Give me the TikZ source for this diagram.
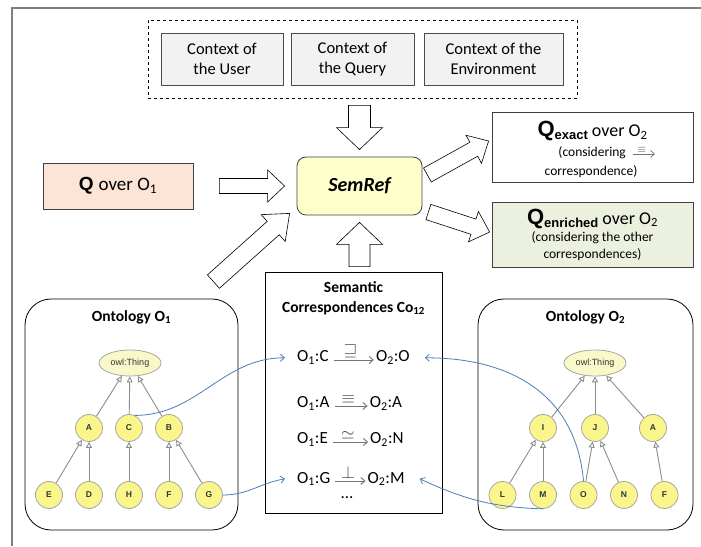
\documentclass[tikz,border=0pt]{standalone}
\usepackage{fontspec}
\setmainfont{Carlito}
\newfontfamily\arialfont{Liberation Sans}
\usepackage{amsmath,amssymb}
\usetikzlibrary{arrows.meta,calc,shapes.geometric,positioning}

\definecolor{framegray}{HTML}{7F7F7F}
\definecolor{boxgray}{HTML}{F2F2F2}
\definecolor{semyel}{HTML}{FFFFCC}
\definecolor{qpeach}{HTML}{FCE4D6}
\definecolor{qgreen}{HTML}{EBF1DE}
\definecolor{nodeyel}{HTML}{FAF68C}
\definecolor{thingyel}{HTML}{FAF8C8}
\definecolor{linkblue}{HTML}{4A7EBB}

\newcommand\ctxfont{\fontsize{16.5}{20}\selectfont}
\newcommand\semfont{\fontsize{20}{24}\selectfont\bfseries\itshape}
\newcommand\rowfont{\fontsize{17}{20}\selectfont}
\newcommand\relfont{\fontsize{16}{16}\selectfont\color{black!75}}
\newcommand\titlefont{\fontsize{15.5}{20}\selectfont\bfseries}
\newcommand\notefont{\fontsize{13.5}{17}\selectfont}
\newcommand\headfont{\fontsize{18}{22}\selectfont}
\newcommand\tnodefont{\arialfont\bfseries\fontsize{8.5}{9}\selectfont\color{black!80}}
\newcommand\thingfont{\arialfont\fontsize{9}{9}\selectfont\color{black!80}}
\newcommand\qsub[1]{{\arialfont\bfseries\fontsize{22}{22}\selectfont Q\raisebox{-3pt}{\fontsize{13}{13}\selectfont #1}}}

%tail, tip, shaft, head, head length
\newcommand\blockarrow[5]{%
  \coordinate (ba) at ($(#2)!#5!(#1)$);
  \draw[blockarr] ($(#1)!#3!90:(#2)$) -- ($(ba)!#3!90:(#2)$) -- ($(ba)!#4!90:(#2)$) -- (#2)
    -- ($(ba)!#4!-90:(#2)$) -- ($(ba)!#3!-90:(#2)$) -- ($(#1)!#3!-90:(#2)$) -- cycle;}

\begin{document}
\begin{tikzpicture}[x=1pt,y=1pt,
  ctxbox/.style={draw=black!70, fill=boxgray, minimum height=52, align=center, font=\ctxfont, line width=0.8pt},
  dashbox/.style={draw=black, dashed, line width=0.8pt, minimum width=429, minimum height=78},
  qbox/.style={draw=black!75, line width=0.8pt, inner sep=0pt, align=center},
  semref/.style={draw=black!75, fill=semyel, rounded corners=9pt, minimum width=125, minimum height=58, font=\semfont, line width=0.8pt},
  ontobox/.style={draw=black, rounded corners=26pt, minimum height=231, line width=0.8pt},
  corrbox/.style={draw=black, minimum width=177, minimum height=241, line width=0.8pt},
  corrtext/.style={inner sep=0pt, anchor=base west, font=\rowfont},
  relarr/.style={draw=black!55, line width=0.9pt, -{Straight Barb[length=4pt, width=7pt]}},
  blockarr/.style={draw=black, fill=white, line width=0.6pt, line join=miter},
  tnode/.style={circle, draw=black!35, fill=nodeyel, minimum size=27, inner sep=0pt, font=\tnodefont, line width=0.8pt},
  thing/.style={ellipse, draw=black!35, fill=thingyel, minimum width=62, minimum height=26, inner sep=0pt, font=\thingfont, line width=0.8pt},
  isa/.style={draw=black!45, line width=0.9pt, -{Triangle[open, length=6pt, width=6pt]}},
  link/.style={draw=linkblue, line width=0.8pt, -{Straight Barb[length=4pt, width=7pt]}}]

    \useasboundingbox (0,0) rectangle (701,546);

    %Marco
    \draw[framegray, line width=2pt] (12,0) -- (12,538) -- (701,538);

    %Contextos
    \node[dashbox] (ctx) at (362.5,487) {};
    \node[ctxbox, minimum width=122] (cuser) at (222,487) {Context of\\the User};
    \node[ctxbox, minimum width=123] (cquery) at (352.5,487) {Context of\\the Query};
    \node[ctxbox, minimum width=139] (cenv) at (493.5,487) {Context of the\\Environment};

    %SemRef y consultas
    \node[semref] (semref) at (359.5,360) {SemRef};
    \node[qbox, fill=qpeach, minimum width=150, minimum height=46, font=\fontsize{19}{22}\selectfont] (qin) at (118,360)
        {{\arialfont\bfseries Q}\hspace{5pt}over O\textsubscript{1}};
    \node[qbox, fill=white, minimum width=201, minimum height=70] (qexact) at (592.5,399) {};
    \node[font=\headfont] (qexhead) at (592.5,415) {\qsub{exact} over O\textsubscript{2}};
    \node[font=\notefont, inner sep=0pt, anchor=base east] (qexnote) at (626,389) {(considering};
    \draw[relarr, line width=0.7pt] ([xshift=7pt, yshift=3pt]qexnote.base east) -- ++(22,0)
        node[pos=0.4, above=0pt, inner sep=1pt, font=\fontsize{11}{11}\selectfont\color{black!75}] {$\equiv$};
    \node[font=\notefont] (qexnote2) at (591,374) {correspondence)};
    \node[qbox, fill=qgreen, minimum width=201, minimum height=65, font=\notefont] (qenr) at (592.5,311.5)
        {{\headfont\qsub{enriched} over O\textsubscript{2}}\\(considering the other\\correspondences)};

    %Correspondencias
    \node[corrbox] (corr) at (353.5,153.5) {};
    \node[font=\titlefont, align=center, below=6pt of corr.north] (corrtitle) {Semantic\\Correspondences Co\textsubscript{12}};
    \foreach \i/\lft/\sy/\rgt/\yb/\gap in {1/C/\sqsupseteq/O/184/47,2/A/\equiv/A/138/40,3/E/\simeq/N/102/42,4/G/\perp/M/63/37}{
        \node[corrtext] (c\i a) at (297,\yb) {O\textsubscript{1}:\lft};
        \node[corrtext, right=\gap pt of c\i a.base east, anchor=base west] (c\i b) {O\textsubscript{2}:\rgt};
        \draw[relarr] ([shift={(5pt,2pt)}]c\i a.base east) -- ([shift={(-2pt,2pt)}]c\i b.base west)
            node[pos=0.42, above=1pt, inner sep=1pt, font=\relfont] {$\sy$};
    }
    \node[font=\rowfont] (dots) at (347,48) {...};

    %Ontologia O1
    \node[ontobox, minimum width=213] (onto1) at (131.5,131.5) {};
    \node[font=\titlefont, below=8pt of onto1.north] (title1) {Ontology O\textsubscript{1}};
    \node[thing] (t1thing) at (130,183) {owl:Thing};
    \foreach \n [count=\i] in {A,C,B}
        \node[tnode] (t1\n) at ({49+40*\i},118) {\n};
    \foreach \n [count=\i] in {E,D,H,F,G}
        \node[tnode] (t1\n) at ({9+40*\i},51) {\n};
    \foreach \c/\p in {E/A,D/A,H/C,F/B,G/B,A/thing,C/thing,B/thing}
        \draw[isa] (t1\c) -- (t1\p);

    %Ontologia O2
    \node[ontobox, minimum width=215] (onto2) at (585.5,131.5) {};
    \node[font=\titlefont, below=8pt of onto2.north] (title2) {Ontology O\textsubscript{2}};
    \node[thing] (t2thing) at (595,183) {owl:Thing};
    \foreach \n/\x in {I/543,J/595,A/653}
        \node[tnode] (t2\n) at (\x,118) {\n};
    \foreach \n [count=\i] in {L,M,O,N,F}
        \node[tnode] (t2\n) at ({462+40.5*\i},51) {\n};
    \foreach \c/\p in {L/I,M/I,O/J,N/J,F/A,I/thing,J/thing,A/thing}
        \draw[isa] (t2\c) -- (t2\p);

    %Flechas de bloque
    \coordinate (a1s) at ([xshift=26pt]qin.east);
    \coordinate (a1e) at ([xshift=-12pt]semref.west);
    \blockarrow{a1s}{a1e}{7.5pt}{16pt}{17pt}
    \coordinate (a2s) at ($(semref.north |- ctx.south)+(0,-7)$);
    \coordinate (a2e) at ([yshift=7pt]semref.north);
    \blockarrow{a2s}{a2e}{11pt}{23pt}{22pt}
    \coordinate (a3s) at ($(semref.south |- corr.north)+(0,5)$);
    \coordinate (a3e) at ([yshift=-7pt]semref.south);
    \blockarrow{a3s}{a3e}{10.5pt}{23pt}{22pt}
    \coordinate (a4s) at ([shift={(-25pt,17pt)}]onto1.north east);
    \coordinate (a4e) at ([shift={(-7pt,2pt)}]semref.south west);
    \blockarrow{a4s}{a4e}{9pt}{18pt}{22pt}
    \coordinate (a5s) at ([shift={(5pt,11pt)}]semref.east);
    \coordinate (a5e) at ([shift={(-3pt,6pt)}]qexact.west);
    \blockarrow{a5s}{a5e}{8pt}{16pt}{17pt}
    \coordinate (a6s) at ([shift={(6pt,-26pt)}]semref.east);
    \coordinate (a6e) at ([shift={(-2pt,2.5pt)}]qenr.west);
    \blockarrow{a6s}{a6e}{8pt}{16pt}{17pt}

    %Enlaces
    \draw[link] (t1C.65) to[out=0,in=180] ([xshift=-12pt]c1a.west);
    \draw[link] (t1G.east) to[out=0,in=190] ([xshift=-12pt]c4a.west);
    \draw[link] (t2O.north) to[out=95,in=0,looseness=1.1] ([xshift=15pt]c1b.east);
    \draw[link] (t2M.south) to[out=178,in=-25] ([xshift=15pt]c4b.east);
\end{tikzpicture}
\end{document}
